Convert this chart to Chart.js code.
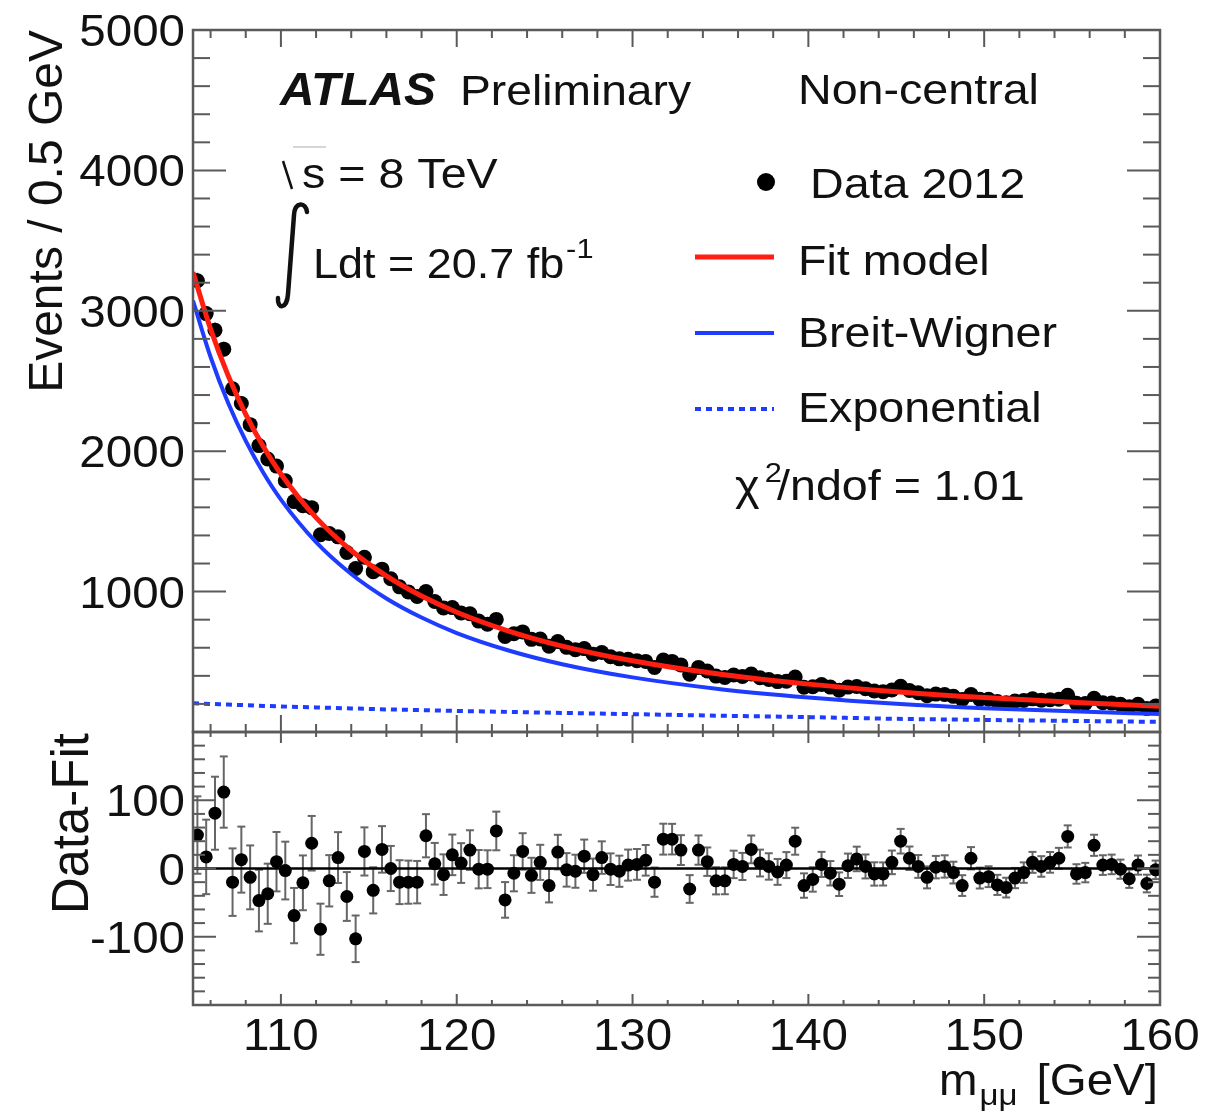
<!DOCTYPE html>
<html>
<head>
<meta charset="utf-8">
<script src="https://cdn.jsdelivr.net/npm/chart.js@4.4.1/dist/chart.umd.min.js"></script>
<style>
    body { margin: 0; background: #fff; }
    #wrap { position: relative; width: 1222px; height: 1115px; overflow: hidden; }
    #mainChart { position: absolute; left: 0; top: 0; }
    #ratioChart { position: absolute; left: 0; top: 720px; }
</style>
</head>
<body>
<div id="wrap">
    <canvas id="mainChart" width="1222" height="740"></canvas>
    <canvas id="ratioChart" width="1222" height="395"></canvas>
</div>
<script>
// m_mumu bin centres, 0.5 GeV bins from 105 to 160 GeV
const binCenters = [
    105.25, 105.75, 106.25, 106.75, 107.25, 107.75, 108.25, 108.75, 109.25, 109.75,
    110.25, 110.75, 111.25, 111.75, 112.25, 112.75, 113.25, 113.75, 114.25, 114.75,
    115.25, 115.75, 116.25, 116.75, 117.25, 117.75, 118.25, 118.75, 119.25, 119.75,
    120.25, 120.75, 121.25, 121.75, 122.25, 122.75, 123.25, 123.75, 124.25, 124.75,
    125.25, 125.75, 126.25, 126.75, 127.25, 127.75, 128.25, 128.75, 129.25, 129.75,
    130.25, 130.75, 131.25, 131.75, 132.25, 132.75, 133.25, 133.75, 134.25, 134.75,
    135.25, 135.75, 136.25, 136.75, 137.25, 137.75, 138.25, 138.75, 139.25, 139.75,
    140.25, 140.75, 141.25, 141.75, 142.25, 142.75, 143.25, 143.75, 144.25, 144.75,
    145.25, 145.75, 146.25, 146.75, 147.25, 147.75, 148.25, 148.75, 149.25, 149.75,
    150.25, 150.75, 151.25, 151.75, 152.25, 152.75, 153.25, 153.75, 154.25, 154.75,
    155.25, 155.75, 156.25, 156.75, 157.25, 157.75, 158.25, 158.75, 159.25, 159.75
];

// events per bin, data 2012
const events = [
    3214, 2980, 2862, 2727, 2445, 2340, 2189, 2040, 1944, 1894,
    1790, 1641, 1612, 1598, 1405, 1414, 1390, 1278, 1165, 1245,
    1142, 1160, 1092, 1034, 998, 965, 1000, 929, 884, 886,
    848, 842, 790, 768, 802, 681, 700, 713, 660, 662,
    611, 644, 603, 586, 594, 554, 566, 536, 521, 518,
    508, 503, 460, 513, 503, 478, 412, 460, 434, 398,
    389, 406, 395, 413, 386, 374, 359, 362, 391, 319,
    322, 338, 320, 298, 320, 324, 308, 292, 287, 299,
    326, 296, 280, 259, 270, 267, 254, 231, 267, 234,
    233, 217, 209, 220, 225, 236, 227, 230, 233, 262,
    204, 203, 240, 208, 206, 197, 180, 197, 168, 185
];

// data minus fit per bin
const residuals = [
    49, 17, 81, 112, -20, 13, -13, -47, -37, 10,
    -3, -69, -21, 37, -89, -18, 16, -41, -103, 25,
    -32, 28, 0, -20, -20, -20, 48, 7, -9, 20,
    8, 27, -1, -1, 55, -46, -7, 25, -10, 9,
    -25, 24, -2, -4, 18, -9, 16, -1, -4, 5,
    6, 12, -20, 43, 43, 27, -30, 27, 10, -18,
    -18, 6, 3, 28, 8, 3, -5, 5, 40, -25,
    -16, 6, -7, -23, 4, 14, 3, -8, -8, 9,
    40, 15, 3, -13, 2, 3, -6, -25, 15, -14,
    -12, -24, -28, -14, -6, 9, 3, 9, 15, 47,
    -8, -6, 34, 5, 6, -1, -15, 5, -22, -2
];

// fit curves sampled along the mass axis
const curveMass    = [105, 106, 107, 108, 109, 110, 112, 114, 116, 118, 120, 123, 126, 130, 135, 140, 145, 150, 155, 160];
const fitModel     = [3275, 2870, 2538, 2263, 2033, 1838, 1527, 1293, 1112, 968, 853, 717, 612, 507, 411, 341, 287, 245, 212, 184];
const breitWigner  = [3072, 2671, 2343, 2073, 1846, 1655, 1352, 1125, 951, 815, 705, 579, 483, 389, 305, 246, 202, 170, 148, 128];
const exponential  = [204, 200, 195, 191, 186, 182, 175, 168, 161, 156, 150, 143, 136, 127, 116, 106, 94, 86, 79, 72];

const mainYTicks  = [1000, 2000, 3000, 4000, 5000];
const ratioYTicks = [-100, 0, 100];
const massTicks   = [110, 120, 130, 140, 150, 160];

// Poisson errors on the counts
const eventErrors = events.map(n => Math.sqrt(n));

const FONT = '"Liberation Sans", Arial, Helvetica, sans-serif';
const RED = 'rgb(255,30,15)';
const BLUE = 'rgb(30,60,255)';
const FRAME = '#5a5a5a';

function drawText(ctx, str, x, y, font, align, sx) {
    ctx.save();
    ctx.font = font;
    ctx.fillStyle = '#111';
    ctx.textBaseline = 'alphabetic';
    ctx.textAlign = align || 'left';
    ctx.translate(x, y);
    ctx.scale(sx || 1, 1);
    ctx.fillText(str, 0, 0);
    const w = ctx.measureText(str).width * (sx || 1);
    ctx.restore();
    return w;
}

function drawVertical(ctx, str, x, y, font) {
    ctx.save();
    ctx.font = font;
    ctx.fillStyle = '#111';
    ctx.translate(x, y);
    ctx.rotate(-Math.PI / 2);
    ctx.textAlign = 'right';
    ctx.textBaseline = 'alphabetic';
    ctx.fillText(str, 0, 0);
    ctx.restore();
}

function seg(ctx, x1, y1, x2, y2) {
    ctx.beginPath();
    ctx.moveTo(x1, y1);
    ctx.lineTo(x2, y2);
    ctx.stroke();
}

// vertical error bars under the markers
const errorBars = {
    id: 'errorBars',
    beforeDatasetsDraw(chart, args, opts) {
        const ctx = chart.ctx;
        const x = chart.scales.x, y = chart.scales.y;
        ctx.save();
        ctx.strokeStyle = opts.color;
        ctx.lineWidth = 2;
        chart.data.datasets.forEach(ds => {
            if (!ds.errors) return;
            ds.data.forEach((p, i) => {
                const px = x.getPixelForValue(p.x);
                const top = y.getPixelForValue(p.y + ds.errors[i]);
                const bot = y.getPixelForValue(p.y - ds.errors[i]);
                seg(ctx, px, top, px, bot);
                if (opts.cap) {
                    seg(ctx, px - opts.cap, top, px + opts.cap, top);
                    seg(ctx, px - opts.cap, bot, px + opts.cap, bot);
                }
            });
        });
        ctx.restore();
    }
};

// frame with inward ticks on all four sides
const frameTicks = {
    id: 'frameTicks',
    afterDatasetsDraw(chart, args, o) {
        const ctx = chart.ctx, a = chart.chartArea;
        const x = chart.scales.x, y = chart.scales.y;
        ctx.save();
        ctx.strokeStyle = FRAME;
        ctx.lineWidth = 2;
        for (let v = Math.ceil(x.min / o.xMinor) * o.xMinor; v <= x.max + 1e-6; v += o.xMinor) {
            const px = x.getPixelForValue(v);
            const len = Math.abs(v % o.xMajor) < 1e-6 ? o.xMajorLen : o.xMinorLen;
            seg(ctx, px, a.bottom, px, a.bottom - len);
            seg(ctx, px, a.top, px, a.top + len);
        }
        for (let v = Math.ceil(y.min / o.yMinor) * o.yMinor; v <= y.max + 1e-6; v += o.yMinor) {
            const py = y.getPixelForValue(v);
            const len = Math.abs(v % o.yMajor) < 1e-6 ? o.yMajorLen : o.yMinorLen;
            seg(ctx, a.left, py, a.left + len, py);
            seg(ctx, a.right, py, a.right - len, py);
        }
        ctx.lineWidth = 2.5;
        ctx.strokeRect(a.left, a.top, a.right - a.left, a.bottom - a.top);
        ctx.restore();
    }
};

const mainText = {
    id: 'mainText',
    afterDraw(chart) {
        const ctx = chart.ctx, a = chart.chartArea, y = chart.scales.y;
        const ds = chart.data.datasets;
        const f42 = '42px ' + FONT;

        mainYTicks.forEach(v => {
            drawText(ctx, String(v), a.left - 8, y.getPixelForValue(v) + 16, '44px ' + FONT, 'right', 1.08);
        });
        drawVertical(ctx, 'Events / 0.5 GeV', 62, a.top, '48px ' + FONT);

        drawText(ctx, 'ATLAS', 280, 105, 'italic bold 46px ' + FONT, 'left', 1.04);
        drawText(ctx, 'Preliminary', 460, 105, f42, 'left', 1.1);
        drawText(ctx, 'Non-central', 798, 104, f42, 'left', 1.11);

        // sqrt(s) and integrated luminosity
        ctx.save();
        ctx.strokeStyle = '#111';
        ctx.lineWidth = 2.5;
        seg(ctx, 283, 161, 292, 189);
        ctx.strokeStyle = '#c8c8c8';
        ctx.lineWidth = 1.5;
        seg(ctx, 293, 147, 326, 147);
        ctx.strokeStyle = '#111';
        ctx.lineCap = 'round';
        ctx.lineWidth = 4.5;
        ctx.beginPath();
        ctx.moveTo(307, 212);
        ctx.bezierCurveTo(306, 202, 295, 201, 294, 215);
        ctx.lineTo(288, 294);
        ctx.bezierCurveTo(287, 310, 277, 309, 278, 298);
        ctx.stroke();
        ctx.restore();
        drawText(ctx, 's = 8 TeV', 302, 188, f42, 'left', 1.11);
        const w = drawText(ctx, 'Ldt = 20.7 fb', 313, 278, f42, 'left', 1.07);
        drawText(ctx, '-1', 313 + w + 2, 258, '28px ' + FONT, 'left', 1.1);

        // legend
        ctx.save();
        ctx.fillStyle = '#000';
        ctx.beginPath();
        ctx.arc(766, 182, 9, 0, Math.PI * 2);
        ctx.fill();
        [[ds[0], 257], [ds[1], 333], [ds[2], 409]].forEach(([d, ly]) => {
            ctx.strokeStyle = d.borderColor;
            ctx.lineWidth = d.borderWidth;
            ctx.setLineDash(d.borderDash || []);
            seg(ctx, 695, ly, 774, ly);
        });
        ctx.restore();
        drawText(ctx, 'Data 2012', 810, 198, f42, 'left', 1.11);
        drawText(ctx, 'Fit model', 798, 275, f42, 'left', 1.11);
        drawText(ctx, 'Breit-Wigner', 798, 347, f42, 'left', 1.11);
        drawText(ctx, 'Exponential', 798, 422, f42, 'left', 1.11);

        const wc = drawText(ctx, 'χ', 735, 500, f42, 'left', 1.12);
        drawText(ctx, '2', 735 + wc + 5, 482, '28px ' + FONT, 'left', 1.1);
        drawText(ctx, '/ndof = 1.01', 777, 500, f42, 'left', 1.11);
    }
};

const ratioText = {
    id: 'ratioText',
    afterDraw(chart) {
        const ctx = chart.ctx, a = chart.chartArea;
        const x = chart.scales.x, y = chart.scales.y;
        ratioYTicks.forEach(v => {
            drawText(ctx, String(v), a.left - 8, y.getPixelForValue(v) + 16, '44px ' + FONT, 'right', 1.08);
        });
        massTicks.forEach(v => {
            drawText(ctx, String(v), x.getPixelForValue(v), a.bottom + 45, '44px ' + FONT, 'center', 1.08);
        });
        drawVertical(ctx, 'Data-Fit', 88, a.top + 1, '51px ' + FONT);

        const base = a.bottom + 90;
        const wm = drawText(ctx, 'm', 939, base, '44px ' + FONT, 'left', 1.05);
        drawText(ctx, 'μμ', 939 + wm + 2, base + 10, '30px ' + FONT, 'left', 1.1);
        drawText(ctx, '[GeV]', a.right - 2, base, '44px ' + FONT, 'right', 1.08);
    }
};

function curve(values) {
    return curveMass.map((m, i) => ({ x: m, y: values[i] }));
}

const mainChart = new Chart(document.getElementById('mainChart'), {
    type: 'line',
    data: {
        datasets: [
            {
                label: 'Fit model',
                data: curve(fitModel),
                borderColor: RED,
                borderWidth: 5,
                pointRadius: 0,
                cubicInterpolationMode: 'monotone',
                order: 0
            },
            {
                label: 'Breit-Wigner',
                data: curve(breitWigner),
                borderColor: BLUE,
                borderWidth: 4,
                pointRadius: 0,
                cubicInterpolationMode: 'monotone',
                order: 1
            },
            {
                label: 'Exponential',
                data: curve(exponential),
                borderColor: BLUE,
                borderWidth: 4,
                borderDash: [6, 5],
                pointRadius: 0,
                cubicInterpolationMode: 'monotone',
                order: 2
            },
            {
                label: 'Data 2012',
                data: binCenters.map((m, i) => ({ x: m, y: events[i] })),
                errors: eventErrors,
                showLine: false,
                pointRadius: 7.5,
                pointBackgroundColor: '#000',
                pointBorderWidth: 0,
                order: 3
            }
        ]
    },
    options: {
        responsive: false,
        animation: false,
        events: [],
        layout: { padding: { left: 193, right: 62, top: 30, bottom: 8 }, autoPadding: false },
        scales: {
            x: { type: 'linear', min: 105, max: 160, display: false },
            y: { type: 'linear', min: 0, max: 5000, display: false }
        },
        plugins: {
            legend: { display: false },
            tooltip: { enabled: false },
            errorBars: { color: '#333', cap: 0 },
            frameTicks: { xMinor: 2, xMajor: 10, xMajorLen: 17, xMinorLen: 8, yMinor: 200, yMajor: 1000, yMajorLen: 33, yMinorLen: 17 }
        }
    },
    plugins: [errorBars, frameTicks, mainText]
});

const ratioChart = new Chart(document.getElementById('ratioChart'), {
    type: 'line',
    data: {
        datasets: [
            {
                label: 'zero',
                data: [{ x: 105, y: 0 }, { x: 160, y: 0 }],
                borderColor: '#000',
                borderWidth: 2.5,
                pointRadius: 0,
                order: 1
            },
            {
                label: 'Data-Fit',
                data: binCenters.map((m, i) => ({ x: m, y: residuals[i] })),
                errors: eventErrors,
                showLine: false,
                pointRadius: 6.5,
                pointBackgroundColor: '#000',
                pointBorderWidth: 0,
                order: 0
            }
        ]
    },
    options: {
        responsive: false,
        animation: false,
        events: [],
        layout: { padding: { left: 193, right: 62, top: 12, bottom: 110 }, autoPadding: false },
        scales: {
            x: { type: 'linear', min: 105, max: 160, display: false },
            y: { type: 'linear', min: -200, max: 200, display: false }
        },
        plugins: {
            legend: { display: false },
            tooltip: { enabled: false },
            errorBars: { color: '#666', cap: 4 },
            frameTicks: { xMinor: 2, xMajor: 10, xMajorLen: 11, xMinorLen: 5, yMinor: 20, yMajor: 100, yMajorLen: 23, yMinorLen: 12 }
        }
    },
    plugins: [errorBars, frameTicks, ratioText]
});
</script>
</body>
</html>
